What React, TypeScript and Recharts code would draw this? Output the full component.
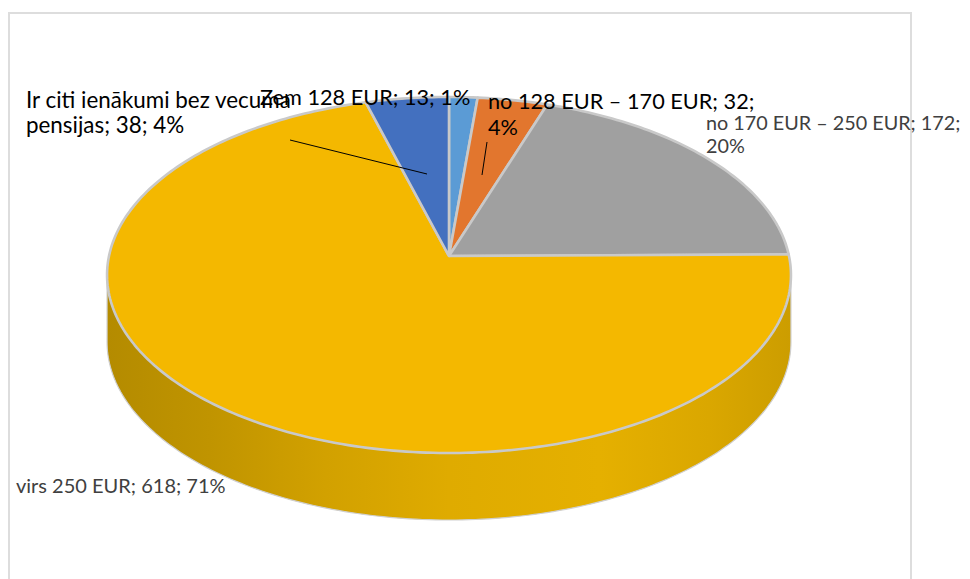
import { Pie, PieChart } from 'recharts';

const categories = ['Zem 128 EUR', 'no 128 EUR – 170 EUR', 'no 170 EUR – 250 EUR', 'virs 250 EUR', 'Ir citi ienākumi bez vecuma pensijas'];
const counts = [13, 32, 172, 618, 38];
const colors = ['#5B9BD5', '#E2762E', '#A0A0A0', '#F4B800', '#4370BF'];

const chartData = categories.map((name, i) => ({ name, value: counts[i], fill: colors[i] }));

// where each data label sits, and where its text wraps
const labelLayout = [
  { x: 260, y: 105, size: 21.7, gap: 26, color: '#000000', lines: ['Zem 128 EUR; 13; 1%'] },
  { x: 488, y: 109, size: 21.7, gap: 26, color: '#000000', lines: ['no 128 EUR – 170 EUR; 32;', '4%'] },
  { x: 706, y: 130, size: 19.8, gap: 23, color: '#404040', lines: ['no 170 EUR – 250 EUR; 172;', '20%'] },
  { x: 16, y: 493, size: 20, gap: 23, color: '#404040', lines: ['virs 250 EUR; 618; 71%'] },
  { x: 26, y: 108, size: 22.4, gap: 25, color: '#000000', lines: ['Ir citi ienākumi bez vecuma', 'pensijas; 38; 4%'] },
];
const leaderLines: Record<number, number[]> = {
  1: [487, 142, 482, 175],
  4: [290, 140, 427, 174],
};

// perspective of the tilted disc
const APEX_X = 449;
const APEX_Y = 256;
const RX = 340;
const RY = 176;
const TILT = 0.1067;
const DEPTH = 67;

const RAD = Math.PI / 180;

function rim(angle: number, drop = 0) {
  const u = Math.cos(angle * RAD);
  const v = Math.sin(angle * RAD);
  const d = 1 + TILT * v;
  return [APEX_X + (RX * u) / d, APEX_Y - (RY * v) / d + drop];
}

function arcPoints(from: number, to: number, drop = 0) {
  const steps = Math.max(2, Math.ceil(Math.abs(from - to)));
  const pts: string[] = [];
  for (let i = 0; i <= steps; i++) {
    const [x, y] = rim(from + ((to - from) * i) / steps, drop);
    pts.push(`${x.toFixed(2)} ${y.toFixed(2)}`);
  }
  return pts;
}

// the rim turns away from the viewer where the disc is widest
const WALL_LEFT = 180 + Math.asin(TILT) / RAD;
const WALL_RIGHT = 360 - Math.asin(TILT) / RAD;

function DiscSlice(props: any) {
  const { startAngle, endAngle, fill } = props;
  const top = arcPoints(startAngle, endAngle);
  const surface = `M${APEX_X} ${APEX_Y} L${top.join(' L')} Z`;

  // angles run clockwise from 90 down to -270
  const a = ((startAngle % 360) + 360) % 360;
  const span = startAngle - endAngle;
  const unrolled = a > 180 ? a - 360 : a;
  const wallStart = Math.min(unrolled, WALL_RIGHT - 360);
  const wallEnd = Math.max(unrolled - span, WALL_LEFT - 360);
  const hasWall = wallEnd < wallStart;

  return (
    <g>
      {hasWall && (
        <>
          <defs>
            <linearGradient id="wallShade" gradientUnits="userSpaceOnUse" x1={107} y1={0} x2={791} y2={0}>
              <stop offset="0%" stopColor="#B48B00" />
              <stop offset="15%" stopColor="#C09400" />
              <stop offset="32%" stopColor="#D2A100" />
              <stop offset="50%" stopColor="#DFAB00" />
              <stop offset="72%" stopColor="#E5B000" />
              <stop offset="88%" stopColor="#DAA700" />
              <stop offset="100%" stopColor="#CC9D00" />
            </linearGradient>
          </defs>
          <path
            d={`M${arcPoints(wallStart, wallEnd).join(' L')} L${arcPoints(wallEnd, wallStart, DEPTH).join(' L')} Z`}
            fill="url(#wallShade)"
            stroke="#CFCFCF"
            strokeWidth={1.2}
            strokeLinejoin="round"
          />
        </>
      )}
      <path d={surface} fill={fill} stroke="#C9C9C9" strokeWidth={2.6} strokeLinejoin="round" />
    </g>
  );
}

function DataLabel(props: any) {
  const spec = labelLayout[props.index];
  const line = leaderLines[props.index];
  return (
    <g>
      {line && <line x1={line[0]} y1={line[1]} x2={line[2]} y2={line[3]} stroke="#000000" strokeWidth={1} />}
      <text x={spec.x} y={spec.y} fontFamily="Lato, sans-serif" fontSize={spec.size} fill={spec.color} textAnchor="start">
        {spec.lines.map((t, i) => (
          <tspan key={i} x={spec.x} dy={i === 0 ? 0 : spec.gap}>
            {t}
          </tspan>
        ))}
      </text>
    </g>
  );
}

export default function App() {
  return (
    <div style={{ position: 'absolute', left: 0, top: 0, width: 970, height: 579, overflow: 'hidden', background: '#fff' }}>
      <div
        style={{
          position: 'absolute',
          left: 8,
          top: 12,
          width: 900,
          height: 640,
          border: '2px solid #DDDDDD',
        }}
      />
      <div style={{ position: 'absolute', left: 0, top: 0 }}>
        <PieChart width={970} height={579} margin={{ top: 0, right: 0, bottom: 0, left: 0 }}>
          <Pie
            data={chartData}
            dataKey="value"
            nameKey="name"
            cx={APEX_X}
            cy={APEX_Y}
            outerRadius={RX}
            startAngle={90}
            endAngle={-270}
            paddingAngle={0}
            stroke="none"
            shape={DiscSlice}
            label={DataLabel}
            labelLine={false}
            isAnimationActive={false}
          />
        </PieChart>
      </div>
    </div>
  );
}
